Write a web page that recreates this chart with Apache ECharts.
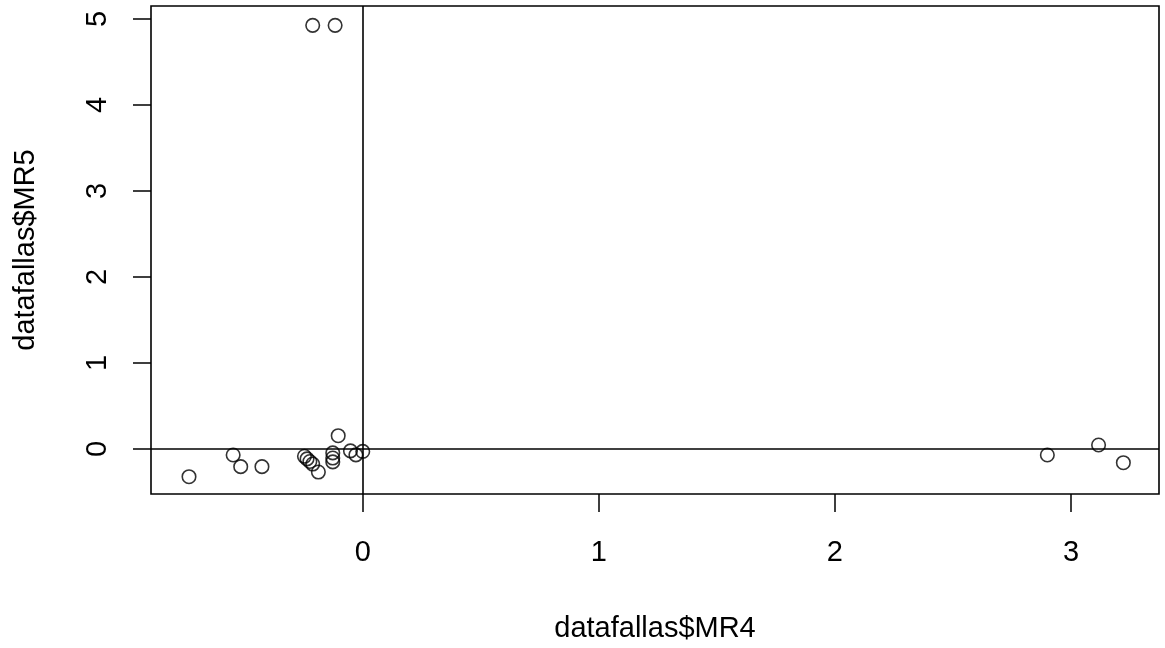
<!DOCTYPE html>
<html>
<head>
<meta charset="utf-8">
<title>datafallas$MR4 vs datafallas$MR5</title>
<script src="https://cdn.jsdelivr.net/npm/echarts@6/dist/echarts.min.js"></script>
<style>
  html, body { margin: 0; padding: 0; background: #fff; }
  #chart { width: 1165px; height: 648px; }
</style>
</head>
<body>
<div id="chart"></div>
<script>
// MR4 (x) and MR5 (y) scores, one entry per observation
const mr4 = [-0.736, -0.549, -0.517, -0.427, -0.247, -0.236, -0.224, -0.212, -0.188,
             -0.127, -0.127, -0.127, -0.104, -0.052, -0.029, 0.000,
             -0.212, -0.117, 2.900, 3.117, 3.222];
const mr5 = [-0.322, -0.070, -0.205, -0.205, -0.085, -0.115, -0.145, -0.175, -0.268,
             -0.045, -0.105, -0.150, 0.155, -0.022, -0.068, -0.028,
             4.925, 4.925, -0.070, 0.047, -0.159];

// tick labels
const xTicks = [0, 1, 2, 3];
const yTicks = [0, 1, 2, 3, 4, 5];

const points = mr4.map((x, i) => [x, mr5[i]]);

const FONT = 'Liberation Sans, Arial, sans-serif';
const INK = '#000';
const FS = 29;

const chart = echarts.init(document.getElementById('chart'), null, { renderer: 'canvas' });

chart.setOption({
  animation: false,
  backgroundColor: '#fff',
  grid: {
    left: 151, right: 6, top: 6, bottom: 153,
    show: true,
    borderColor: INK,
    borderWidth: 1.6,
    backgroundColor: 'transparent'
  },
  xAxis: {
    type: 'value',
    min: -0.897,
    max: 3.373,
    name: 'datafallas$MR4',
    nameLocation: 'middle',
    nameGap: 120,
    nameTextStyle: { fontFamily: FONT, fontSize: FS, color: INK },
    axisLine: { show: false, onZero: false },
    splitLine: { show: false },
    axisTick: {
      show: true, length: 18, inside: false,
      customValues: xTicks,
      lineStyle: { color: INK, width: 1.5 }
    },
    axisLabel: {
      show: true, margin: 44,
      customValues: xTicks,
      fontFamily: FONT, fontSize: FS, color: INK
    }
  },
  yAxis: {
    type: 'value',
    min: -0.523,
    max: 5.15,
    name: 'datafallas$MR5',
    nameLocation: 'middle',
    nameRotate: 90,
    nameGap: 111,
    nameTextStyle: { fontFamily: FONT, fontSize: FS, color: INK },
    axisLine: { show: false, onZero: false },
    splitLine: { show: false },
    axisTick: {
      show: true, length: 18, inside: false,
      customValues: yTicks,
      lineStyle: { color: INK, width: 1.5 }
    },
    axisLabel: {
      show: true, margin: 39, rotate: 90,
      customValues: yTicks,
      fontFamily: FONT, fontSize: FS, color: INK
    }
  },
  series: [{
    type: 'scatter',
    data: points,
    symbol: 'circle',
    symbolSize: 13.5,
    itemStyle: {
      color: 'rgba(0,0,0,0)',
      borderColor: INK,
      borderWidth: 1.6
    },
    emphasis: { disabled: true },
    markLine: {
      silent: true,
      symbol: ['none', 'none'],
      label: { show: false },
      lineStyle: { color: INK, width: 1.6, type: 'solid' },
      data: [{ xAxis: 0 }, { yAxis: 0 }]
    }
  }]
});
</script>
</body>
</html>
